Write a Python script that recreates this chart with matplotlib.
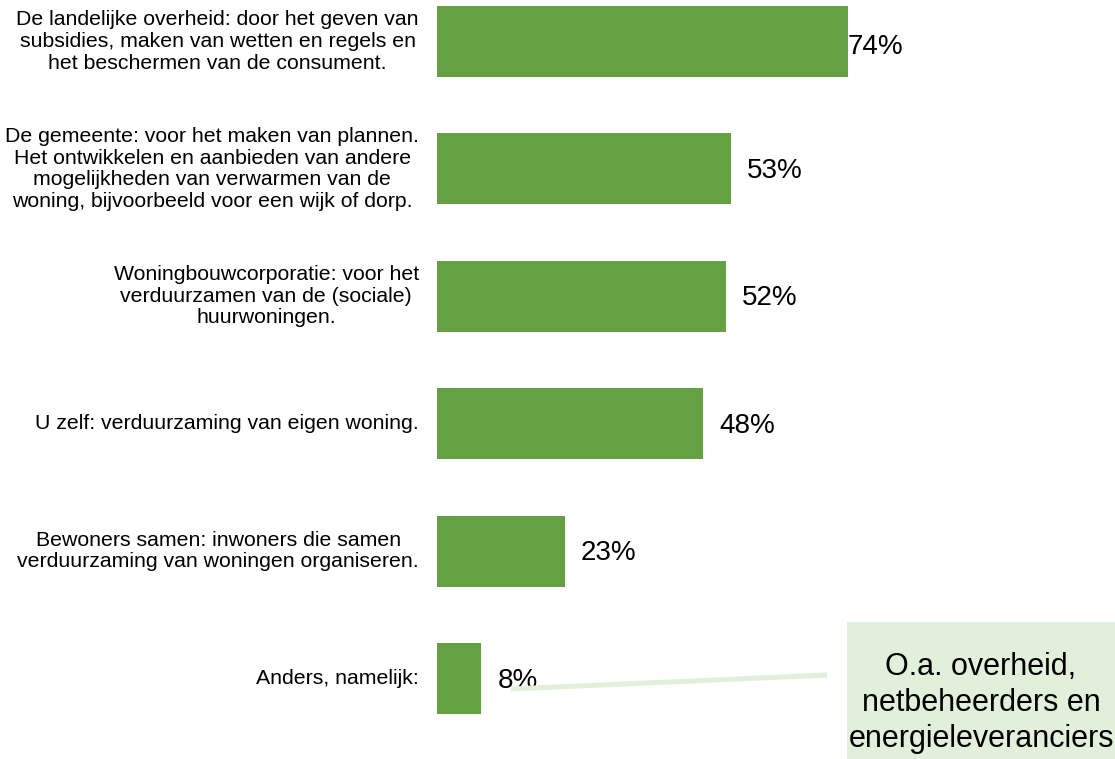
import matplotlib.pyplot as plt

plt.rcParams['font.family'] = ['Liberation Sans', 'DejaVu Sans']

# Antwoordcategorieen en percentages
categories = [
    'De landelijke overheid: door het geven van\nsubsidies, maken van wetten en regels en\nhet beschermen van de consument.',
    'De gemeente: voor het maken van plannen.\nHet ontwikkelen en aanbieden van andere\nmogelijkheden van verwarmen van de\nwoning, bijvoorbeeld voor een wijk of dorp.',
    'Woningbouwcorporatie: voor het\nverduurzamen van de (sociale)\nhuurwoningen.',
    'U zelf: verduurzaming van eigen woning.',
    'Bewoners samen: inwoners die samen\nverduurzaming van woningen organiseren.',
    'Anders, namelijk:',
]
values = [74, 53, 52, 48, 23, 8]
callout_text = 'O.a. overheid,\nnetbeheerders en\nenergieleveranciers'

bar_color = '#65A043'
light_green = '#E2EFDA'

fig = plt.figure(figsize=(11.15, 7.59), dpi=100)
ax = fig.add_axes([437 / 1115, 0, 1 - 437 / 1115, 1])

y = list(range(len(values)))
ax.barh(y, values, height=0.557, color=bar_color)

ax.set_xlim(0, (1115 - 437) / 5.55)
ax.set_ylim(5 + (759 - 678.5) / 127.4, -41.5 / 127.4)
ax.axis('off')

for i, (cat, v) in enumerate(zip(categories, values)):
    ax.annotate(cat, xy=(0, i), xytext=(-18, 0), textcoords='offset pixels',
                ha='right', va='center', multialignment='center',
                fontsize=15.35, linespacing=1.17)
    off = (0, -5) if i == 0 else (16, -2)
    ax.annotate(f'{v}%', xy=(v, i), xytext=off, textcoords='offset pixels',
                ha='left', va='center', fontsize=20)

# callout met verbindingslijn
W, H = 1115, 759
fig.add_artist(plt.Line2D([511 / W, 827 / W], [1 - 689 / H, 1 - 675 / H],
                          color=light_green, lw=3.6, solid_capstyle='butt'))
fig.add_artist(plt.Rectangle((847 / W, 0), 1 - 847 / W, 1 - 622 / H,
                             facecolor=light_green, edgecolor='none'))
fig.text(981 / W, 1 - 703 / H, callout_text, ha='center', va='center',
         fontsize=22, linespacing=1.24)

fig.savefig('out.png', dpi=100)
